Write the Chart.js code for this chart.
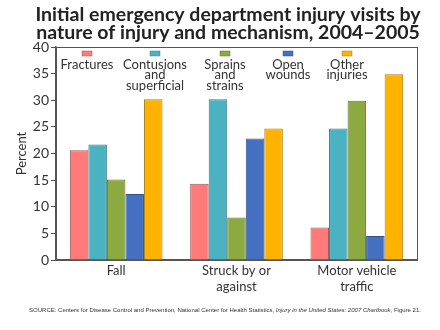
<!DOCTYPE html>
<html><head><meta charset="utf-8">
<script src="https://cdn.jsdelivr.net/npm/chart.js@4"></script>
<style>
html,body{margin:0;padding:0;background:#fff;}
#wrap{position:relative;width:440px;height:330px;}
#src{position:absolute;left:0;width:440px;top:307px;text-align:center;font:6px "Liberation Sans",Arial,sans-serif;color:#333;white-space:nowrap;padding-left:10px;box-sizing:border-box;}
</style></head>
<body>
<div id="wrap"><canvas id="c" width="440" height="330"></canvas>
<div id="src">SOURCE: Centers for Disease Control and Prevention, National Center for Health Statistics, <i>Injury in the United States: 2007 Chartbook</i>, Figure 21.</div>
</div>
<script>
const categories = [["Fall"], ["Struck by or", "against"], ["Motor vehicle", "traffic"]];
const seriesNames = [["Fractures"], ["Contusions", "and", "superficial"], ["Sprains", "and", "strains"], ["Open", "wounds"], ["Other", "injuries"]];
const fractures = [20.6, 14.3, 6.1];
const contusions = [21.7, 30.2, 24.7];
const sprains = [15.1, 8.0, 29.9];
const openWounds = [12.4, 22.8, 4.5];
const otherInjuries = [30.2, 24.7, 34.9];
const yTicks = [0, 5, 10, 15, 20, 25, 30, 35, 40];
const titleLines = ["Initial emergency department injury visits by", "nature of injury and mechanism, 2004\u20132005"];

const fills = ["#FF7A78", "#4BB2C2", "#8CAA3F", "#4570C1", "#FFB300"];
const borders = ["#9a5a58", "#3a7f8a", "#5f7530", "#34518a", "#a8801a"];
const seriesValues = [fractures, contusions, sprains, openWounds, otherInjuries];

const legendX = [87, 155, 225, 288, 347];

const deco = {
  id: 'deco',
  afterDraw(chart) {
    const ctx = chart.ctx, a = chart.chartArea;
    ctx.save();
    ctx.strokeStyle = '#555';
    ctx.lineWidth = 1;
    ctx.strokeRect(Math.round(a.left) + 0.5, Math.round(a.top) + 0.5, Math.round(a.right - a.left), Math.round(a.bottom - a.top));
    ctx.fillStyle = '#222';
    ctx.font = 'bold 19.5px Lato, "Open Sans", sans-serif';
    ctx.textAlign = 'center';
    ctx.textBaseline = 'alphabetic';
    ctx.fillText(titleLines[0], 228, 21);
    ctx.fillText(titleLines[1], 228, 39);
    ctx.font = '13px Lato, "Open Sans", sans-serif';
    ctx.textBaseline = 'middle';
    seriesNames.forEach((lines, i) => {
      const cx = legendX[i];
      ctx.fillStyle = fills[i];
      ctx.fillRect(cx - 5, 51, 10, 5);
      ctx.strokeStyle = borders[i];
      ctx.lineWidth = 0.5;
      ctx.strokeRect(cx - 5, 51, 10, 5);
      ctx.fillStyle = '#333';
      lines.forEach((t, j) => ctx.fillText(t, cx, 64.5 + j * 10.7));
    });
    ctx.restore();
  }
};

new Chart(document.getElementById('c'), {
  type: 'bar',
  data: {
    labels: categories,
    datasets: seriesValues.map((v, i) => ({
      label: seriesNames[i].join(' '),
      data: v,
      backgroundColor: fills[i],
      borderColor: borders[i],
      borderWidth: 1,
      borderSkipped: 'bottom'
    }))
  },
  options: {
    responsive: false,
    animation: false,
    devicePixelRatio: 1,
    layout: { padding: { top: 47, right: 23, left: 0, bottom: 0 } },
    plugins: { legend: { display: false }, title: { display: false }, tooltip: { enabled: false } },
    datasets: { bar: { categoryPercentage: 0.77, barPercentage: 1.0 } },
    scales: {
      x: {
        grid: { display: false, drawTicks: false },
        border: { color: '#555', width: 1.5 },
        ticks: { color: '#333', font: { family: 'Lato, "Open Sans", sans-serif', size: 13 }, padding: 3, maxRotation: 0 },
        afterFit(s) { s.height = 70; }
      },
      y: {
        min: 0, max: 40,
        afterBuildTicks(s) { s.ticks = yTicks.map(v => ({ value: v })); },
        grid: { display: true, drawOnChartArea: false, drawTicks: true, tickLength: 5, color: '#555' },
        border: { color: '#555', width: 1.5 },
        ticks: { color: '#333', font: { family: 'Lato, "Open Sans", sans-serif', size: 14 }, padding: 2 },
        title: { display: true, text: 'Percent', color: '#333', font: { family: 'Lato, "Open Sans", sans-serif', size: 13 }, padding: { top: 14, bottom: 4 } },
        afterFit(s) { s.width = 56; }
      }
    }
  },
  plugins: [deco]
});
</script>
</body></html>
